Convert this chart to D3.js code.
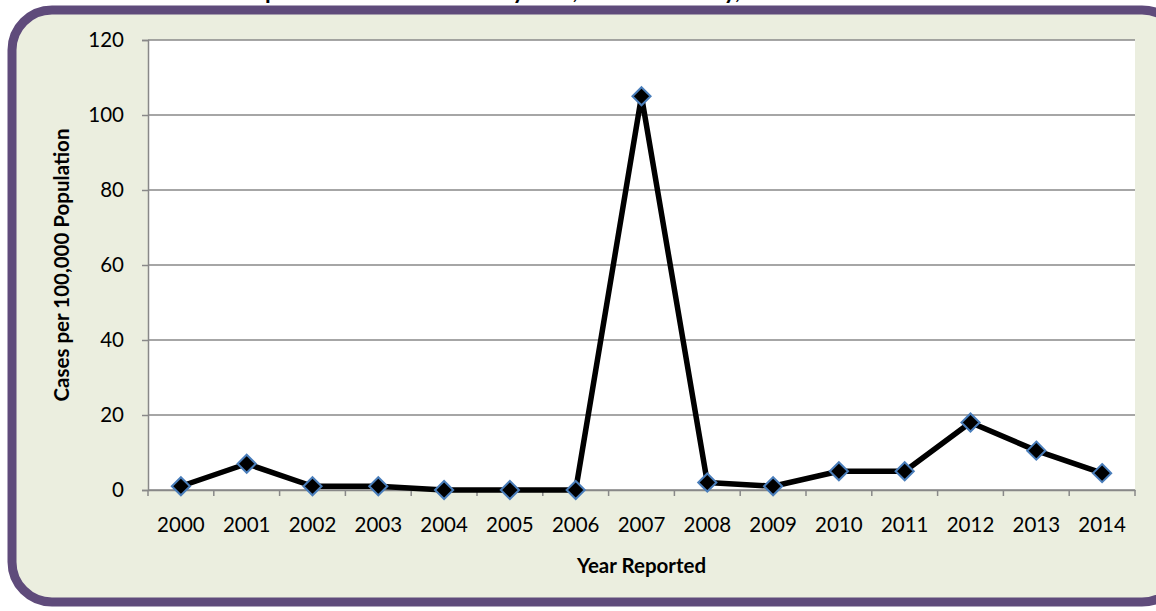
<!DOCTYPE html>
<html><head><meta charset="utf-8">
<script src="https://cdn.jsdelivr.net/npm/d3@7"></script>
<style>
html,body{margin:0;padding:0;background:#fff;}
svg{display:block;font-family:Lato,"Open Sans",sans-serif;}
</style></head>
<body><svg id="c" width="1156" height="611"></svg>
<script>
const years = ["2000","2001","2002","2003","2004","2005","2006","2007","2008","2009","2010","2011","2012","2013","2014"];
const rates = [1, 7, 1, 1, 0, 0, 0, 105, 2, 1, 5, 5, 18, 10.5, 4.5];
const yTicks = [0, 20, 40, 60, 80, 100, 120];
const titleText = "Reported Pertussis Rates by Year, Yakima County, 2000-2014";
const xTitle = "Year Reported";
const yTitle = "Cases per 100,000 Population";

const svg = d3.select("#c");
// frame
svg.append("rect").attr("x",12).attr("y",10).attr("width",1170).attr("height",592)
  .attr("rx",40).attr("ry",40).attr("fill","#EBEEDF").attr("stroke","#5F4B7B").attr("stroke-width",9);
svg.append("text").attr("x",550).attr("y",-1).attr("text-anchor","middle")
  .attr("font-weight","bold").attr("font-size",23).text(titleText);

const L=148,R=1135,T=40,B=490;
const x = d3.scaleBand().domain(years).range([L,R]);
const y = d3.scaleLinear().domain([0,120]).range([B,T]);
svg.append("rect").attr("x",L).attr("y",T).attr("width",R-L).attr("height",B-T).attr("fill","#fff");
// gridlines
svg.append("g").selectAll("line").data(yTicks).join("line")
  .attr("x1",L).attr("x2",R).attr("y1",d=>y(d)).attr("y2",d=>y(d))
  .attr("stroke","#888").attr("stroke-width",1.5);
// y axis
const ya = svg.append("g").attr("transform",`translate(${L},0)`)
  .call(d3.axisLeft(y).tickValues(yTicks).tickSize(6).tickPadding(18));
ya.select(".domain").attr("stroke","#888").attr("stroke-width",1.5);
ya.selectAll(".tick line").attr("stroke","#888").attr("stroke-width",1.5);
ya.selectAll("text").attr("font-size",20.5).attr("font-family","Lato,'Open Sans',sans-serif").attr("fill","#000");
// x axis
const xa = svg.append("g").attr("transform",`translate(0,${B})`)
  .call(d3.axisBottom(x).tickSize(0).tickPadding(27));
xa.select(".domain").attr("stroke","#888").attr("stroke-width",1.5);
xa.selectAll("text").attr("font-size",20.5).attr("font-family","Lato,'Open Sans',sans-serif").attr("fill","#000");
svg.append("g").selectAll("line").data(d3.range(years.length+1)).join("line")
  .attr("x1",i=>L+i*x.step()).attr("x2",i=>L+i*x.step())
  .attr("y1",B).attr("y2",B+6).attr("stroke","#888").attr("stroke-width",1.5);
// titles
svg.append("text").attr("x",(L+R)/2).attr("y",573).attr("text-anchor","middle")
  .attr("font-weight","bold").attr("font-size",20.5).text(xTitle);
svg.append("text").attr("transform",`translate(69,${(T+B)/2}) rotate(-90)`).attr("text-anchor","middle")
  .attr("font-weight","bold").attr("font-size",20.5).text(yTitle);
// line
const cx = d=>x(d)+x.bandwidth()/2;
const pts = years.map((d,i)=>[cx(d),y(rates[i])]);
svg.append("path").attr("d",d3.line()(pts)).attr("fill","none").attr("stroke","#000")
  .attr("stroke-width",5.5).attr("stroke-linejoin","round");
svg.append("g").selectAll("path").data(pts).join("path")
  .attr("d",d3.symbol(d3.symbolDiamond2,210)())
  .attr("transform",d=>`translate(${d[0]},${d[1]})`)
  .attr("fill","#000").attr("stroke","#4A7EBB").attr("stroke-width",2);
</script></body></html>
